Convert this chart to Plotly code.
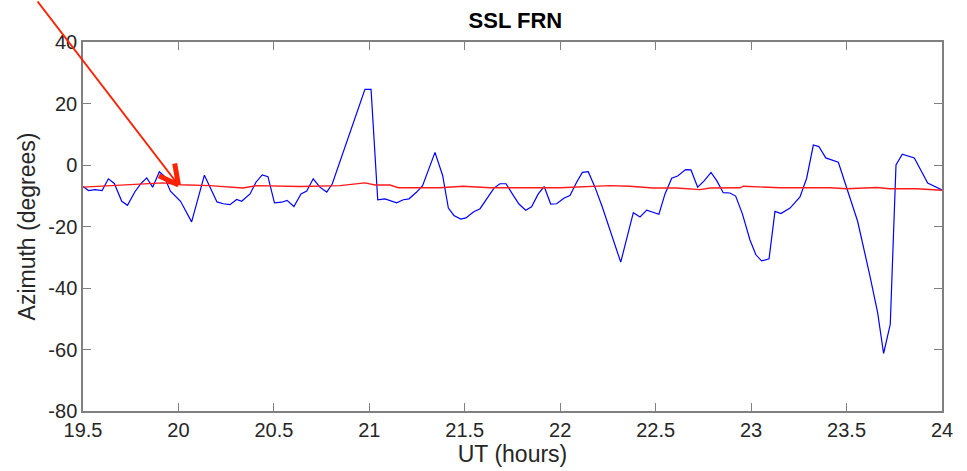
import plotly.graph_objects as go

# Measured azimuth (blue) vertices: UT hours and degrees
ut_meas = [19.50, 19.529, 19.563, 19.600, 19.633, 19.664, 19.703, 19.733, 19.772, 19.804,
           19.834, 19.865, 19.900, 19.924, 19.958, 19.991, 20.011, 20.069, 20.136, 20.202,
           20.235, 20.270, 20.305, 20.331, 20.375, 20.406, 20.439, 20.469, 20.503, 20.541,
           20.569, 20.605, 20.642, 20.672, 20.706, 20.741, 20.777, 20.806, 20.977, 21.009,
           21.044, 21.082, 21.143, 21.178, 21.208, 21.248, 21.279, 21.344, 21.384, 21.414,
           21.443, 21.479, 21.506, 21.545, 21.580, 21.615, 21.653, 21.684, 21.716, 21.754,
           21.784, 21.819, 21.850, 21.885, 21.916, 21.950, 21.981, 22.021, 22.051, 22.086,
           22.116, 22.147, 22.182, 22.220, 22.270, 22.317, 22.383, 22.418, 22.453, 22.479,
           22.517, 22.549, 22.584, 22.615, 22.657, 22.685, 22.720, 22.755, 22.790, 22.820,
           22.854, 22.889, 22.919, 22.954, 22.994, 23.025, 23.055, 23.094, 23.125, 23.156,
           23.204, 23.256, 23.291, 23.326, 23.355, 23.391, 23.457, 23.501, 23.558, 23.623,
           23.663, 23.694, 23.729, 23.759, 23.792, 23.855, 23.925, 24.00]
az_meas = [-7.0, -8.3, -8.0, -8.3, -4.5, -6.0, -11.8, -13.1, -8.7, -6.0,
           -4.2, -7.2, -2.2, -3.5, -8.5, -10.6, -11.8, -18.5, -3.3, -12.0,
           -12.6, -12.9, -11.2, -11.8, -9.4, -5.6, -3.2, -3.8, -12.3, -12.1,
           -11.5, -13.5, -9.4, -8.5, -4.5, -7.2, -8.8, -6.1, 24.6, 24.6,
           -11.3, -11.0, -12.3, -11.3, -11.0, -8.8, -6.7, 4.1, -3.4, -14.0,
           -16.4, -17.6, -17.2, -15.3, -14.2, -11.0, -7.5, -6.1, -6.1, -9.9,
           -12.7, -14.7, -13.6, -9.4, -7.0, -12.7, -12.6, -10.7, -9.9, -5.6,
           -2.4, -2.2, -7.2, -13.6, -22.8, -31.6, -15.5, -16.9, -14.7, -15.3,
           -16.0, -9.4, -4.3, -3.6, -1.5, -1.6, -7.2, -5.1, -2.4, -5.1,
           -9.0, -9.1, -10.1, -15.8, -24.4, -29.2, -31.2, -30.5, -15.1, -15.8,
           -14.0, -10.4, -4.3, 6.5, 6.0, 2.3, 0.9, -7.5, -18.3, -36.2,
           -48.1, -61.3, -51.8, 0.0, 3.5, 2.3, -5.9, -8.1]

# Model azimuth (red) vertices
ut_model = [19.50, 19.919, 20.011, 20.165, 20.338, 20.410, 20.637, 20.846, 20.977, 21.030,
            21.108, 21.152, 21.370, 21.492, 21.632, 21.999, 22.261, 22.365, 22.486, 22.610,
            22.732, 22.785, 22.942, 22.959, 23.151, 23.413, 23.501, 23.658, 23.727, 23.867,
            24.00]
az_model = [-7.2, -5.8, -6.4, -6.7, -7.5, -6.7, -7.0, -6.7, -5.8, -6.5,
            -6.5, -7.4, -7.4, -6.9, -7.4, -7.4, -6.7, -6.9, -7.5, -7.5,
            -8.0, -7.5, -7.4, -6.9, -7.4, -7.4, -7.7, -7.3, -7.7, -7.7,
            -8.2]

x_ticks = [19.5, 20, 20.5, 21, 21.5, 22, 22.5, 23, 23.5, 24]
x_tick_text = ["19.5", "20", "20.5", "21", "21.5", "22", "22.5", "23", "23.5", "24"]
y_ticks = [-80, -60, -40, -20, 0, 20, 40]
y_tick_text = ["-80", "-60", "-40", "-20", "0", "20", "40"]

# Arrow marker pointing at the model curve
arrow_tip = (20.0, -6.5)

FONT = "Liberation Sans, Arial, Helvetica, sans-serif"
FRAME = "#808080"
TEXT = "#262626"

fig = go.Figure()
fig.add_trace(go.Scatter(x=ut_meas, y=az_meas, mode="lines",
                         line=dict(color="#0000ff", width=1.2), showlegend=False))
fig.add_trace(go.Scatter(x=ut_model, y=az_model, mode="lines",
                         line=dict(color="#ff1a1a", width=1.4), showlegend=False))

# Shaft of the arrow (comes in from above the figure) and its two thick barbs
fig.add_annotation(x=arrow_tip[0], y=arrow_tip[1], xref="x", yref="y",
                   ax=-142, ay=-195, axref="pixel", ayref="pixel",
                   showarrow=True, arrowhead=0, arrowwidth=2, arrowcolor="#ff2200", text="")
for bx, by in [(-4, -23), (-21, -10)]:
    fig.add_annotation(x=arrow_tip[0], y=arrow_tip[1], xref="x", yref="y",
                       ax=bx, ay=by, showarrow=True, arrowhead=0, arrowwidth=5,
                       arrowcolor="#ff2200", text="")

fig.update_layout(
    width=967, height=471,
    margin=dict(l=83, r=25, t=42, b=57),
    paper_bgcolor="white", plot_bgcolor="white",
    font=dict(family=FONT, size=20, color=TEXT),
    title=dict(text="<b>SSL FRN</b>", x=0.533, xanchor="center", y=0.957, yanchor="middle",
               yref="container", font=dict(family=FONT, size=22, color="black")),
    xaxis=dict(range=[19.5, 24], tickvals=x_ticks, ticktext=x_tick_text,
               showgrid=False, zeroline=False, showline=True, linecolor=FRAME, linewidth=1.5,
               mirror="ticks", ticks="inside", ticklen=8, tickcolor=FRAME, tickwidth=1,
               title=dict(text="UT (hours)", font=dict(size=23), standoff=2)),
    yaxis=dict(range=[-80, 40], tickvals=y_ticks, ticktext=y_tick_text,
               showgrid=False, zeroline=False, showline=True, linecolor=FRAME, linewidth=1.5,
               mirror="ticks", ticks="inside", ticklen=8, tickcolor=FRAME, tickwidth=1,
               title=dict(text="Azimuth (degrees)", font=dict(size=23), standoff=6)),
)

fig.write_html("out.html")
